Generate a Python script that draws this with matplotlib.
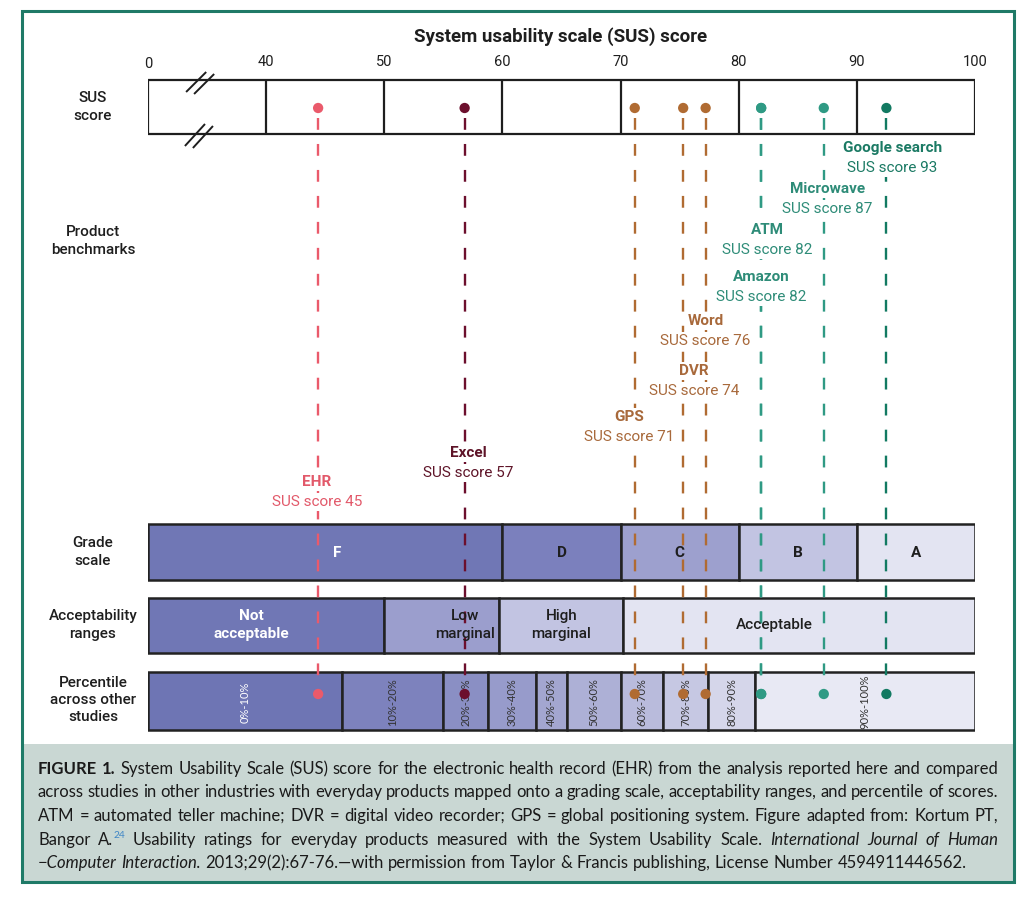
import matplotlib
matplotlib.use("Agg")
import matplotlib.pyplot as plt
import numpy as np
from matplotlib.patches import Rectangle

W, H = 1025, 897

# SUS axis
tick_values = [0, 40, 50, 60, 70, 80, 90, 100]
cell_edges = [40, 50, 60, 70, 80, 90]

# product benchmarks
product_names = ["EHR", "Excel", "GPS", "DVR", "Word", "Amazon", "ATM",
                 "Microwave", "Google search"]
product_scores = [44.4, 56.8, 71.2, 75.3, 77.2, 81.9, 81.9, 87.2, 92.5]
product_labels = [45, 57, 71, 74, 76, 82, 82, 87, 93]
product_colors = ["#ea5a6b", "#6c0f2d", "#b06b32", "#b06b32", "#b06b32",
                  "#2f9a84", "#2f9a84", "#2f9a84", "#127a62"]
text_colors = ["#e2596a", "#5e1428", "#a8693b", "#a8693b", "#a8693b",
               "#2e8c78", "#2e8c78", "#2e8c78", "#1b7a64"]
# label placement (score units, pixel rows)
label_x = [44.3, 57.1, 70.7, 76.2, 77.2, 81.9, 82.4, 87.5, 93.0]
label_y = [482, 453, 417, 371, 321, 277, 230, 189, 148]

# grade scale
grade_edges = [0, 60, 70, 80, 90, 100]
grade_names = ["F", "D", "C", "B", "A"]
grade_colors = ["#7077b5", "#7b80bd", "#9da0ce", "#c2c4e2", "#e3e4f2"]

# acceptability ranges
accept_edges = [0, 50, 59.7, 70.2, 100]
accept_names = ["Not\nacceptable", "Low\nmarginal", "High\nmarginal", "Acceptable"]
accept_colors = ["#7077b5", "#9b9ecd", "#c2c4e2", "#e3e4f2"]
accept_label_x = [35.0, 56.8, 65.0, 83.0]

# percentile across other studies
pct_edges = [0, 46.4, 55.0, 58.8, 62.8, 65.5, 70.0, 73.6, 77.4, 81.4, 100]
pct_names = ["0%-10%", "10%-20%", "20%-30%", "30%-40%", "40%-50%",
             "50%-60%", "60%-70%", "70%-80%", "80%-90%", "90%-100%"]
pct_colors = ["#6e75b4", "#7d82bd", "#8a8fc4", "#979bcb", "#a3a6d0",
              "#adb0d6", "#b9bbdc", "#c6c8e3", "#d5d6ea", "#e8e9f4"]

caption_lines = [
    [("FIGURE 1.", "b"), (" System Usability Scale (SUS) score for the electronic health record (EHR) "
                          "from the analysis reported here and compared", "n")],
    [("across studies in other industries with everyday products mapped onto a grading scale, "
      "acceptability ranges, and percentile of scores.", "n")],
    [("ATM = automated teller machine; DVR = digital video recorder; GPS = global positioning "
      "system. Figure adapted from: Kortum PT,", "n")],
    [("Bangor A.", "n"), ("24", "sup"), (" Usability ratings for everyday products measured with "
                                         "the System Usability Scale. ", "n"),
     ("International Journal of Human", "i")],
    [("\u2212Computer Interaction.", "i"), (" 2013;29(2):67-76.\u2014with permission from Taylor & "
                                           "Francis publishing, License Number 4594911446562.", "n")],
]

FONT = "Roboto"
CAP_FONT = "Lato"
TEAL = "#1f7a67"
DARK = "#1e1e1e"


def fwd(x):
    x = np.asarray(x, dtype=float)
    return np.where(x < 40, x / 40, 1 + (x - 40) / 10)


def inv(u):
    u = np.asarray(u, dtype=float)
    return np.where(u < 1, u * 40, 40 + (u - 1) * 10)


def mid(a, b):
    return float(inv((fwd(a) + fwd(b)) / 2))


def fy(py):
    return 1 - py / H


fig = plt.figure(figsize=(W / 100, H / 100), dpi=100)
ax = fig.add_axes([148 / W, 0, (975 - 148) / W, 1])
ax.set_xscale("function", functions=(fwd, inv))
ax.set_xlim(0, 100)
ax.set_ylim(H, 0)
ax.axis("off")

# frame and caption panel
fig.add_artist(Rectangle((22 / W, fy(882)), (1014 - 22) / W, (882 - 744) / H,
                         transform=fig.transFigure, facecolor="#c9d7d3",
                         edgecolor="none", zorder=0))
fig.add_artist(Rectangle((22 / W, fy(882)), (1014 - 22) / W, (882 - 11) / H,
                         transform=fig.transFigure, fill=False,
                         edgecolor=TEAL, lw=2.2, zorder=10))

# title and ticks
fig.text(561 / W, fy(37), "System usability scale (SUS) score", ha="center",
         va="center", fontsize=13.5, fontweight="bold", family=FONT, color=DARK)
for v in tick_values:
    ax.text(v, 62 if v else 64, str(v), ha="center", va="center", fontsize=10.5,
            family=FONT, color=DARK)

# SUS score box
ax.add_patch(Rectangle((0, 80), 100, 54, facecolor="white", edgecolor=DARK,
                       lw=1.6, zorder=1))
ax.vlines(cell_edges, 80, 134, color=DARK, lw=1.6, zorder=1)
for x0, x1, y0, y1 in [(12.9, 19.7, 92, 72), (15.6, 22.4, 94, 74),
                       (12.5, 19.3, 146, 124), (15.2, 22.0, 148, 126)]:
    ax.plot([x0, x1], [y0, y1], color=DARK, lw=1.4, zorder=2,
            solid_capstyle="butt")

# stacked rows
rows = [(grade_edges, grade_colors, 552), (accept_edges, accept_colors, 626),
        (pct_edges, pct_colors, 701)]
row_h = [56, 55, 58]
for (edges, colors, yc), h in zip(rows, row_h):
    e = np.array(edges)
    ax.barh([yc] * (len(e) - 1), e[1:] - e[:-1], left=e[:-1], height=h,
            color=colors, edgecolor="#222222", lw=1.8, zorder=1)

for i, name in enumerate(grade_names):
    ax.text(mid(grade_edges[i], grade_edges[i + 1]) + (1 if i == 0 else 0), 553, name,
            ha="center", va="center", fontsize=11, fontweight="bold",
            family=FONT, color="white" if i == 0 else DARK, zorder=5)
for i, name in enumerate(accept_names):
    ax.text(accept_label_x[i], 625, name, ha="center", va="center",
            fontsize=11, fontweight="bold" if i == 0 else "medium",
            family=FONT, color="white" if i == 0 else DARK, zorder=5,
            linespacing=1.3)
for i, name in enumerate(pct_names):
    ax.text(mid(pct_edges[i], pct_edges[i + 1]), 702, name, ha="center",
            va="center", rotation=90, fontsize=8, family=CAP_FONT,
            color="white" if i == 0 else "#333333", zorder=5)

# benchmark drop lines and markers
ax.vlines(product_scores, 118, 688, colors=product_colors, lw=1.7,
          linestyles=[(0, (5, 6))], zorder=3)
ax.scatter(product_scores, [108] * len(product_scores), s=55,
           c=product_colors, zorder=6, linewidths=0)
ax.scatter(product_scores, [694] * len(product_scores), s=55,
           c=product_colors, zorder=6, linewidths=0)

box = dict(facecolor="white", edgecolor="none", pad=1.5)
for i, name in enumerate(product_names):
    ax.text(label_x[i], label_y[i], name, ha="center", va="center",
            fontsize=11, fontweight="bold", family=FONT,
            color=text_colors[i], bbox=box, zorder=4)
    ax.text(label_x[i], label_y[i] + 20, f"SUS score {product_labels[i]}",
            ha="center", va="center", fontsize=11, fontweight="normal",
            family=FONT, color=text_colors[i], bbox=box, zorder=4)

# row labels
for y, txt in [(107, "SUS\nscore"), (241, "Product\nbenchmarks"),
               (552, "Grade\nscale"), (625, "Acceptability\nranges"),
               (700, "Percentile\nacross other\nstudies")]:
    fig.text(93 / W, fy(y), txt, ha="center", va="center", fontsize=11,
             fontweight="medium", family=FONT, color=DARK, linespacing=1.3)

# caption, justified word by word
renderer = fig.canvas.get_renderer()


def cap_style(style, size):
    kw = dict(family=CAP_FONT, fontsize=size, color="#1a1a1a", va="baseline")
    if style == "b":
        kw["fontweight"] = "bold"
    elif style == "i":
        kw["style"] = "italic"
    elif style == "sup":
        kw["fontsize"] = size * 0.62
        kw["color"] = "#3f86c6"
    return kw


def split_words(runs):
    words = [[]]
    for txt, style in runs:
        for k, part in enumerate(txt.split(" ")):
            if k > 0:
                words.append([])
            if part:
                words[-1].append((part, style))
    return [w for w in words if w]


def measure(seg_text, style, size):
    t = fig.text(0, 0, seg_text, **cap_style(style, size))
    w = t.get_window_extent(renderer).width
    t.remove()
    return w


x_left, x_right = 38, 998
size = 12.2
space = measure("a a", "n", size) - measure("aa", "n", size)
for _ in range(10):
    widest = max(sum(measure(s, st, size) for w in split_words(r) for s, st in w)
                 + space * 0.8 * (len(split_words(r)) - 1) for r in caption_lines)
    if widest <= x_right - x_left:
        break
    size *= 0.98
    space = measure("a a", "n", size) - measure("aa", "n", size)

line_y = [774, 797, 821, 845, 868]
for li, runs in enumerate(caption_lines):
    words = split_words(runs)
    widths = [[measure(s, st, size) for s, st in w] for w in words]
    total = sum(sum(w) for w in widths)
    last = li == len(caption_lines) - 1
    gap = space if last else (x_right - x_left - total) / (len(words) - 1)
    x = x_left
    for word, ws in zip(words, widths):
        for (s, st), sw in zip(word, ws):
            dy = -7 if st == "sup" else 0
            fig.text(x / W, fy(line_y[li] + dy), s, **cap_style(st, size))
            x += sw
        x += gap

fig.savefig("out.png", dpi=100)
